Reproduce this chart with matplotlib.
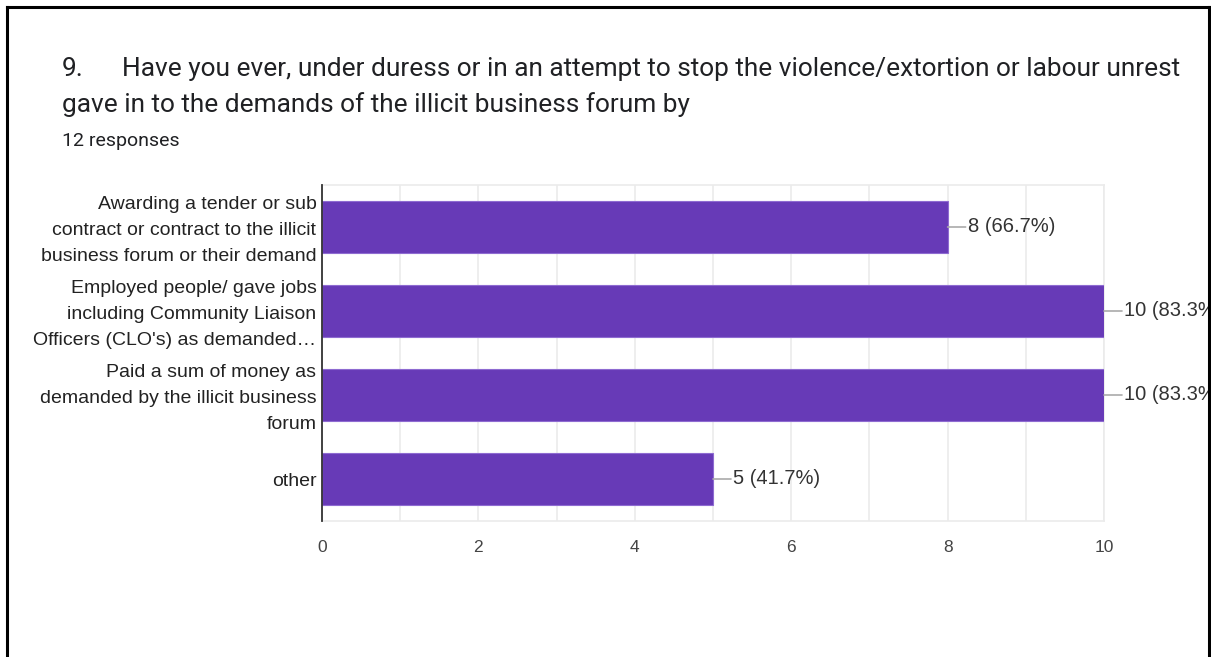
import matplotlib.pyplot as plt
from matplotlib.lines import Line2D
from matplotlib.transforms import ScaledTranslation

# survey answers, top to bottom
categories = [
    "Awarding a tender or sub\ncontract or contract to the illicit\nbusiness forum or their demand",
    "Employed people/ gave jobs\nincluding Community Liaison\nOfficers (CLO's) as demanded\u2026",
    "Paid a sum of money as\ndemanded by the illicit business\nforum",
    "other",
]
counts = [8, 10, 10, 5]
total_responses = 12
x_ticks = [0, 2, 4, 6, 8, 10]

title_num = "9."
title_line1 = "Have you ever, under duress or in an attempt to stop the violence/extortion or labour unrest"
title_line2 = "gave in to the demands of the illicit business forum by"
subtitle = f"{total_responses} responses"

W, H = 1211, 657
fig = plt.figure(figsize=(W / 100, H / 100), dpi=100)
fig.patch.set_facecolor("white")

def fx(px):
    return px / W

def fy(py):
    return 1 - py / H

# question header
head_kw = dict(fontsize=18.9, family="Roboto", color="#202124", va="baseline")
fig.text(fx(62), fy(76), title_num, **head_kw)
fig.text(fx(122), fy(76), title_line1, **head_kw)
fig.text(fx(62), fy(112), title_line2, **head_kw)
fig.text(fx(62), fy(146), subtitle, fontsize=14, family="Roboto", color="#202124", va="baseline")

ax = fig.add_axes([fx(322), fy(521), fx(1104) - fx(322), (521 - 185) / H])

ypos = list(range(len(categories)))
ax.barh(ypos, counts, height=0.62, color="#673ab7", edgecolor="#8e6bd1", linewidth=0.8, zorder=3)
ax.set_ylim(len(categories) - 0.5, -0.5)
ax.set_xlim(0, 10)

ax.set_xticks(range(0, 11), minor=True)
ax.set_xticks(x_ticks)
ax.set_xticklabels([str(t) for t in x_ticks], family="Liberation Sans", fontsize=12.5, color="#444444")
ax.set_yticks(ypos)
ax.set_yticklabels(categories, family="Liberation Sans", fontsize=14.0, color="#222222",
                   linespacing=1.68)
ax.tick_params(axis="both", which="both", length=0)
ax.tick_params(axis="x", pad=14)
ax.tick_params(axis="y", pad=4)
ax.grid(True, axis="x", which="both", color="#ebebeb", linewidth=1.2, zorder=0)

# nudge the wrapped labels up a little so the middle line sits on the bar centre
lift = ScaledTranslation(0, 3 / 100, fig.dpi_scale_trans)
for lbl in ax.get_yticklabels():
    if "\n" in lbl.get_text():
        lbl.set_transform(lbl.get_transform() + lift)

for side in ["top", "bottom", "right"]:
    ax.spines[side].set_color("#ebebeb")
    ax.spines[side].set_linewidth(1.2)
ax.spines["left"].set_color("#333333")
ax.spines["left"].set_linewidth(1.3)
ax.spines["left"].set_zorder(4)

# value labels with a short leader line
for y, c in zip(ypos, counts):
    pct = c / total_responses * 100
    ax.annotate("", xy=(c, y), xytext=(18, 0), textcoords="offset pixels",
                arrowprops=dict(arrowstyle="-", color="#aaaaaa", lw=1.2, shrinkA=0, shrinkB=0),
                annotation_clip=False)
    ax.annotate(f"{c} ({pct:.1f}%)", xy=(c, y), xytext=(20, 1), textcoords="offset pixels",
                va="center", ha="left", family="Liberation Sans", fontsize=14.5, color="#333333",
                annotation_clip=False)

# black frame around the card
frame_kw = dict(color="black", linewidth=2.2, transform=fig.transFigure)
fig.add_artist(Line2D([fx(7), fx(7)], [fy(7), 0], **frame_kw))
fig.add_artist(Line2D([fx(7), fx(1209)], [fy(7), fy(7)], **frame_kw))
fig.add_artist(Line2D([fx(1209), fx(1209)], [fy(7), 0], **frame_kw))

fig.savefig("out.png", dpi=100, facecolor="white")
